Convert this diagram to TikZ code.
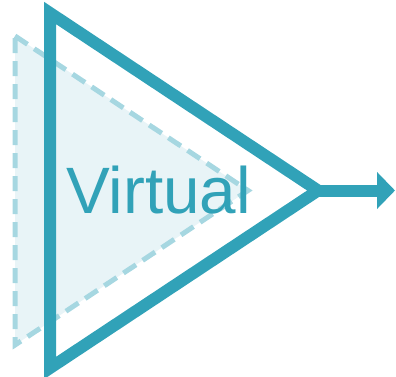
\documentclass[tikz,border=0pt]{standalone}
\usepackage{fontspec}
\setmainfont{Liberation Sans}
\usetikzlibrary{arrows.meta}
\definecolor{teal1}{HTML}{31A2B8}
\definecolor{ghostline}{HTML}{A6D7E1}
\definecolor{ghostfill}{HTML}{E8F4F7}
\tikzset{
  solidtri/.style={draw=teal1, line width=12pt, line join=miter},
  ghosttri/.style={draw=ghostline, fill=ghostfill, line width=5pt, dash pattern=on 15pt off 8pt, line join=miter},
  outarrow/.style={draw=teal1, line width=12pt, -{Triangle[length=18pt,width=36pt]}},
  label/.style={text=teal1, font=\fontsize{65.6}{70}\selectfont, inner sep=0pt, anchor=base west}
}
\begin{document}
\begin{tikzpicture}[x=1pt,y=-1pt]
\useasboundingbox (0,0) rectangle (396,377);
% ghost (virtual) triangle
\coordinate (gt) at (15,36);
\coordinate (gb) at (15,345);
\coordinate (ga) at (248,190.5);
\draw[ghosttri] (gt) -- (ga) -- (gb) -- cycle;
% label
\node[label] (lbl) at (66,213) {Virtual};
% solid triangle
\coordinate (st) at (50,13);
\coordinate (sb) at (50,368);
\coordinate (sa) at (318,190.5);
\coordinate (out) at (395,190.5);
\draw[outarrow] (sa) -- (out);
\draw[solidtri] (st) -- (sa) -- (sb) -- cycle;
\end{tikzpicture}
\end{document}
